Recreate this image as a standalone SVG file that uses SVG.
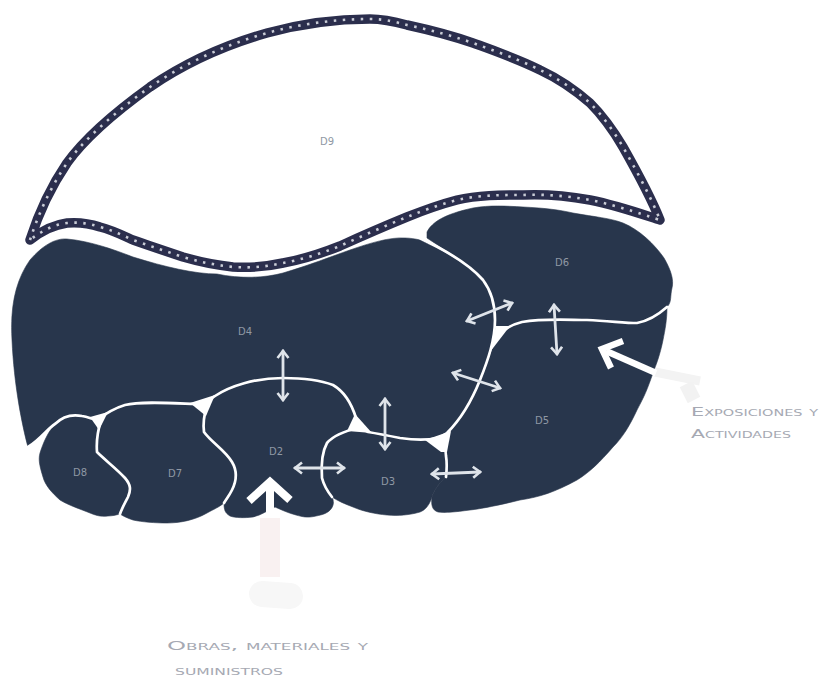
<svg xmlns="http://www.w3.org/2000/svg" width="823" height="682" viewBox="0 0 823 682">
<style>
.r{fill:#28364c;stroke:#28364c;stroke-width:.6}
.s{fill:none;stroke:#fff;stroke-width:2.7;stroke-linecap:round}
.w{fill:#fff}
.t{font-family:"DejaVu Sans",sans-serif;font-size:10px;fill:#8f98a4}
.l{font-family:"DejaVu Sans",sans-serif;font-variant:small-caps;fill:#a6a9b3;font-size:13px}
.a{fill:none;stroke:#dfe4ea;stroke-width:2.8;stroke-linecap:round;stroke-linejoin:round}
.b{fill:none;stroke:#fff;stroke-width:8}
.d{fill:none;stroke-linejoin:round}
</style>
<defs>
<marker id="h" viewBox="0 0 14 14" refX="12" refY="7" markerWidth="14" markerHeight="14" markerUnits="userSpaceOnUse" orient="auto-start-reverse"><path d="M5 1.5L12 7L5 12.5" fill="none" stroke="#dfe4ea" stroke-width="2.6"/></marker>
<path id="o" d="M30 240C38 215 50 188 67 163C85 138 118 110 150 87C185 63 225 45 267 33C300 24 335 19 370 19C385 19 396 22 407 25C430 30 450 35 473 43C495 51 518 59 540 70C557 78 574 89 590 103C602 115 613 130 623 147C636 170 650 195 660 220C650 217 620 206 590 200C568 196 545 194 523 195C500 195 478 195 457 200C438 205 422 211 407 217C385 226 362 236 340 246C320 254 300 260 283 263C265 267 250 268 233 267C215 265 200 262 183 257C165 251 150 246 133 240C122 235 112 230 100 227C88 223 78 222 67 223C52 225 40 232 30 240Z"/>
</defs>
<rect width="823" height="682" fill="#fff"/>
<g id="d9">
<use href="#o" class="d" stroke="#2b2e4d" stroke-width="9.5"/>
<use href="#o" class="d" stroke="#c9ccd6" stroke-width="2.6" stroke-dasharray="2.5 6.5"/>
<text class="t" x="327" y="145" text-anchor="middle">D9</text>
</g>
<g id="d4"><path class="r" d="M28 447C22 425 14 385 12 340C10 305 16 280 30 260C42 246 55 238 67 239C90 241 115 250 133 257C165 267 195 274 217 274C240 279 265 278 283 273C310 265 330 257 350 250C370 243 390 237 405 238C410 238 416 239 420 240C445 252 470 265 483 280C492 292 495 305 495 320C495 340 488 360 480 380C472 400 462 418 447 433C443 436 440 437 437 438C428 440 415 440 400 438C390 436 380 434 368 432C362 430 359 426 356 418C352 405 345 392 333 385C320 380 300 378 283 378C255 378 230 386 215 396C210 400 205 403 195 404C170 403 140 401 125 405C115 408 105 414 97 420C92 419 88 417 82 416C72 414 62 417 55 424C48 428 40 440 28 447Z"/><text class="t" x="245" y="335" text-anchor="middle">D4</text></g>
<g id="d6"><path class="r" d="M427 232C432 222 445 214 473 208C490 205 505 206 523 207C545 208 560 210 573 213C595 217 610 218 623 223C640 230 655 245 664 258C671 270 674 280 672 288C670 296 672 302 667 307C658 315 648 321 637 323C625 323 610 321 587 320C570 320 545 318 522 322C510 325 500 332 495 340C496 330 495 325 495 320C495 305 492 292 483 280C470 265 445 250 427 238Z"/><text class="t" x="562" y="266" text-anchor="middle">D6</text></g>
<g id="d5"><path class="r" d="M447 433C462 418 472 400 480 380C488 360 492 350 495 340C500 332 510 325 522 322C545 318 570 320 587 320C610 321 625 323 637 323C648 321 658 315 667 307C667 320 665 330 663 340C660 355 656 365 653 373C647 390 645 395 637 410C630 425 623 437 613 447C600 462 590 472 577 480C555 492 540 497 520 500C500 505 480 509 470 510C455 512 445 513 438 512C432 510 431 505 432 497C434 490 440 482 446 477C447 468 447 462 446 456C446 448 443 442 437 438Z"/><text class="t" x="542" y="424" text-anchor="middle">D5</text></g>
<g id="d3"><path class="r" d="M358 428C362 430 365 431 368 432C380 434 390 436 400 438C415 440 428 440 437 438C443 442 446 448 446 456C447 462 447 468 446 477C440 482 434 490 432 497C429 506 425 510 420 512C410 515 398 516 387 515C375 514 362 511 353 507C345 504 338 501 332 497C328 492 324 486 322 478C321 465 322 452 327 443C333 436 345 431 358 428Z"/><text class="t" x="388" y="485" text-anchor="middle">D3</text></g>
<g id="d2"><path class="r" d="M283 378C300 378 320 380 333 385C345 392 352 405 356 418C357 422 357 425 358 428C345 431 333 436 327 443C322 452 321 465 322 478C324 486 328 492 332 497C334 501 334 505 331 509C328 513 322 515 316 516C308 518 303 517 296 515C288 513 282 510 275 507C268 510 262 515 253 517C245 518 235 518 230 516C225 513 224 510 224 503C227 498 229 496 232 490C236 482 238 472 232 462C225 450 212 443 204 432C203 425 204 415 207 405C208 402 212 399 215 396C230 386 255 378 283 378Z"/><text class="t" x="276" y="455" text-anchor="middle">D2</text></g>
<g id="d7"><path class="r" d="M97 420C105 414 115 408 125 405C140 401 170 403 195 404L207 405C204 415 203 425 204 432C212 443 225 450 232 462C238 472 236 482 232 490C229 496 227 498 224 503C218 508 212 510 207 513C195 520 180 523 167 523C155 523 142 522 133 520C127 518 123 516 120 514C122 508 125 503 128 497C131 490 131 485 125 478C118 470 105 460 97 452C96 440 98 430 101 420Z"/><text class="t" x="175" y="477" text-anchor="middle">D7</text></g>
<g id="d8"><path class="r" d="M55 424C62 417 72 414 82 416C88 417 92 419 97 420L101 420C98 430 96 440 97 452C105 460 118 470 125 478C131 485 131 490 128 497C125 503 122 508 120 514C116 515 112 516 108 516C100 517 95 515 90 513C80 509 68 505 60 500C52 493 45 485 43 477C40 467 38 460 40 453C43 443 48 432 55 424Z"/><text class="t" x="80" y="476" text-anchor="middle">D8</text></g>
<g id="seams">
<path class="s" d="M420 238C445 250 470 265 483 280C492 292 495 305 495 320C495 340 488 360 480 380C472 400 462 418 447 433C443 436 440 437 437 438"/>
<path class="s" d="M495 340C500 332 510 325 522 322C545 318 570 320 587 320C610 321 625 323 637 323C648 321 658 315 667 307"/>
<path class="s" d="M28 447C40 440 48 428 55 424C62 417 72 414 82 416C88 417 92 419 97 420C105 414 115 408 125 405C140 401 170 403 195 404C205 403 210 400 215 396C230 386 255 378 283 378C300 378 320 380 333 385C345 392 352 405 356 418C359 426 362 430 368 432C380 434 390 436 400 438C415 440 428 440 437 438"/>
<path class="s" d="M207 405C204 415 203 425 204 432C212 443 225 450 232 462C238 472 236 482 232 490C229 496 227 498 224 503"/>
<path class="s" d="M101 420C98 430 96 440 97 452C105 460 118 470 125 478C131 485 131 490 128 497C125 503 122 508 120 514"/>
<path class="s" d="M358 428C345 431 333 436 327 443C322 452 321 465 322 478C324 486 328 492 332 497"/>
<path class="s" d="M437 438C443 442 446 448 446 456C447 462 447 468 446 477"/>
<path class="w" d="M190 403L215 395L206 416Z"/>
<path class="w" d="M90 417L108 412L99 430Z"/>
<path class="w" d="M355 414L372 433L347 431Z"/>
<path class="w" d="M425 440L451 431L447 452L441 452Z"/>
<path class="w" d="M490 352L496 326L510 326Z"/>
</g>
<g id="connectors">
<path class="a" marker-start="url(#h)" marker-end="url(#h)" d="M283 351V400"/>
<path class="a" marker-start="url(#h)" marker-end="url(#h)" d="M385 399V449"/>
<path class="a" marker-start="url(#h)" marker-end="url(#h)" d="M295 468H344"/>
<path class="a" marker-start="url(#h)" marker-end="url(#h)" d="M467 321L512 303"/>
<path class="a" marker-start="url(#h)" marker-end="url(#h)" d="M453 373L500 388"/>
<path class="a" marker-start="url(#h)" marker-end="url(#h)" d="M554 305L557 354"/>
<path class="a" marker-start="url(#h)" marker-end="url(#h)" d="M432 474L480 472"/>
<path fill="none" stroke="#f9f1f1" stroke-width="20" d="M270 518V577"/>
<path fill="none" stroke="#f7f7f7" stroke-width="26" stroke-linecap="round" d="M262 594L290 596"/>
<path class="b" d="M270 482V516"/>
<path class="b" d="M249 501L270 482L290 500"/>
<path fill="none" stroke="#f3f3f3" stroke-width="9" d="M655 372L700 381"/>
<path fill="none" stroke="#f2f2f2" stroke-width="14" d="M686 384L694 400"/>
<path class="b" style="stroke-width:6.5" d="M606 351L656 373"/>
<path class="b" style="stroke-width:6.5" d="M623 341L602 349L611 368"/>
</g>
<g id="notes">
<text class="l" x="167" y="650" textLength="201" lengthAdjust="spacingAndGlyphs">Obras, materiales y</text>
<text class="l" x="175" y="675" textLength="108" lengthAdjust="spacingAndGlyphs">suministros</text>
<text class="l" x="691" y="416" textLength="127" lengthAdjust="spacingAndGlyphs">Exposiciones y</text>
<text class="l" x="691" y="438" textLength="100" lengthAdjust="spacingAndGlyphs">Actividades</text>
</g>
</svg>
